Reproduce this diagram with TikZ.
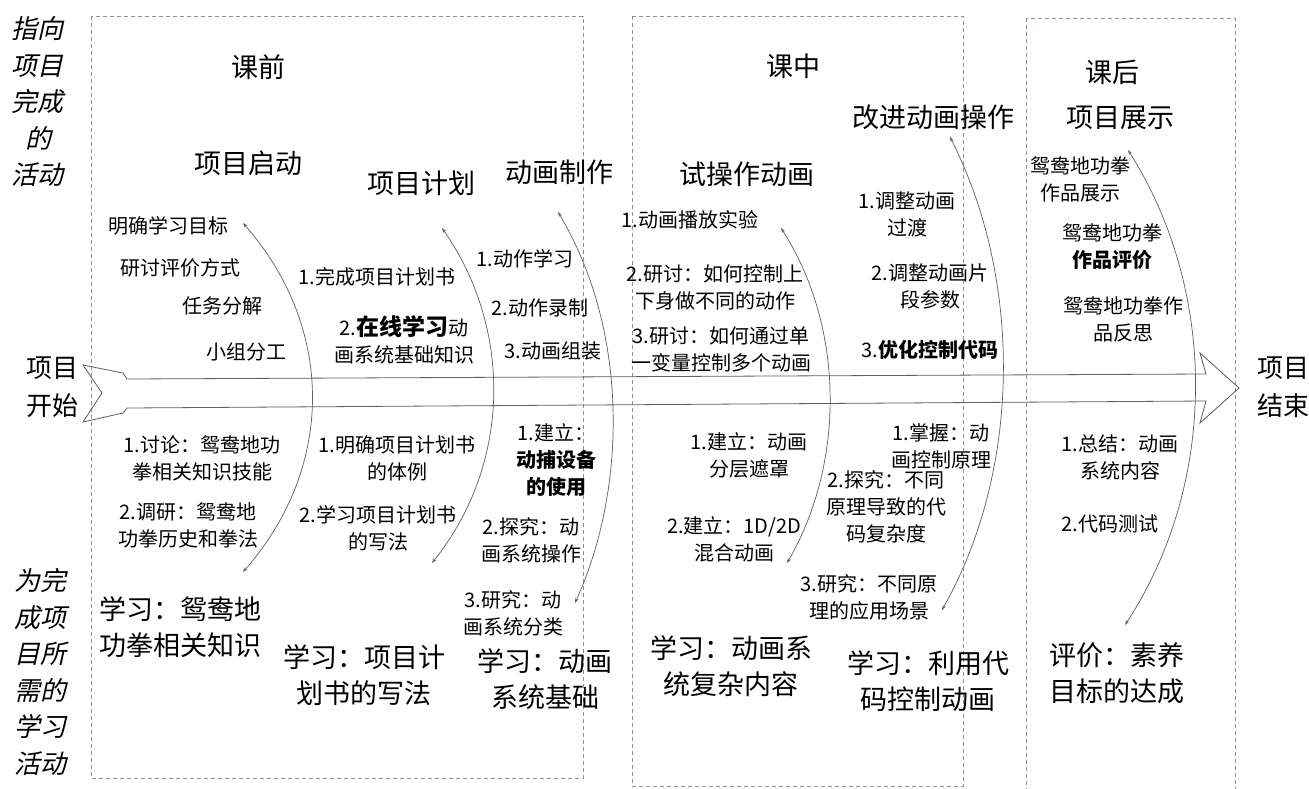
\documentclass[tikz,border=0pt]{standalone}
\usepackage{fontspec}
\setmainfont{Noto Sans CJK SC}
\newfontfamily\sidefont[FakeSlant=0.22]{Noto Sans CJK SC}
\usetikzlibrary{arrows.meta}
\definecolor{boxgray}{RGB}{135,145,160}
\definecolor{linegray}{RGB}{95,95,95}
\tikzset{
  sm/.style={font=\fontsize{20}{27}\selectfont, align=center, inner sep=0pt},
  lg/.style={font=\fontsize{27}{36.5}\selectfont, align=center, inner sep=0pt},
  side/.style={font=\sidefont\fontsize{26}{36.5}\selectfont, align=center, inner sep=0pt},
  endlbl/.style={font=\fontsize{26}{38}\selectfont, align=center, inner sep=0pt},
  stagebox/.style={draw=boxgray, line width=0.8pt, dash pattern=on 4pt off 3pt},
  bigarrow/.style={draw=linegray, line width=0.8pt, line join=miter},
  fishbone/.style={draw=linegray, line width=0.7pt, >={Stealth[length=5pt,width=3.5pt]}, <->},
}
\begin{document}
\begin{tikzpicture}[x=1pt,y=-1pt]
\fill[white] (0,0) rectangle (1309,788);
\useasboundingbox (0,0) rectangle (1309,788);

% stage boxes
\draw[stagebox] (91,16) rectangle (583,778);
\draw[stagebox] (632,16) rectangle (963,786);
\draw[stagebox] (1026,18) rectangle (1235,790);

% main arrow
\draw[bigarrow] (83,365) -- (123,373) -- (127,379) -- (1206,374) -- (1200,353)
  -- (1239,388) -- (1200,423) -- (1206,401) -- (127,408) -- (123,413)
  -- (83,422) -- (102,393) -- cycle;

% fishbone curve ends
\coordinate (a1) at (243,223); \coordinate (b1) at (243,572);
\coordinate (a2) at (442,228); \coordinate (b2) at (432,563);
\coordinate (a3) at (558,212); \coordinate (b3) at (575,603);
\coordinate (a4) at (781,228); \coordinate (b4) at (787,563);
\coordinate (a5) at (950,137); \coordinate (b5) at (942,610);
\coordinate (a6) at (1128,150); \coordinate (b6) at (1125,625);

\draw[fishbone] (a1) .. controls (335,328) and (335,467) .. (b1);
\draw[fishbone] (a2) .. controls (512,328) and (512,463) .. (b2);
\draw[fishbone] (a3) .. controls (628,329) and (628,486) .. (b3);
\draw[fishbone] (a4) .. controls (845,328) and (845,463) .. (b4);
\draw[fishbone] (a5) .. controls (1022,279) and (1022,468) .. (b5);
\draw[fishbone] (a6) .. controls (1218,292) and (1218,483) .. (b6);

% side labels
\node[side] (sideTop) at (38,102) {指向\\项目\\完成\\的\\活动};
\node[side] (sideBot) at (40,672) {为完\\成项\\目所\\需的\\学习\\活动};
\node[endlbl] (start) at (52,387) {项目\\开始};
\node[endlbl] (finish) at (1283,387) {项目\\结束};

% stage and phase titles
\node[lg] (pre) at (258,67) {课前};
\node[lg] (mid) at (793,66) {课中};
\node[lg] (post) at (1112,72) {课后};
\node[lg] (show) at (1120,118) {项目展示};
\node[lg] (launch) at (248,163) {项目启动};
\node[lg] (plan) at (421,183) {项目计划};
\node[lg] (make) at (559,172) {动画制作};
\node[lg] (trial) at (747,174) {试操作动画};
\node[lg] (improve) at (933,117) {改进动画操作};

% bottom learning titles
\node[lg] (learn1) at (180,627) {学习：鸳鸯地\\功拳相关知识};
\node[lg] (learn2) at (364,675) {学习：项目计\\划书的写法};
\node[lg] (learn3) at (545,679) {学习：动画\\系统基础};
\node[lg] (learn4) at (731,666) {学习：动画系\\统复杂内容};
\node[lg] (learn5) at (928,681) {学习：利用代\\码控制动画};
\node[lg] (learn6) at (1117,673) {评价：素养\\目标的达成};

% upper activities
\node[sm] (u1) at (168,226) {明确学习目标};
\node[sm] (u2) at (180,268) {研讨评价方式};
\node[sm] (u3) at (222,306) {任务分解};
\node[sm] (u4) at (246,352) {小组分工};
\node[sm] (u5) at (377,277) {1.完成项目计划书};
\node[sm] (u6) at (404,340) {2.{\fontsize{23}{27}\selectfont\bfseries 在线学习}动\\画系统基础知识};
\node[sm] (u7) at (525,259) {1.动作学习};
\node[sm] (u8) at (540,308) {2.动作录制};
\node[sm] (u9) at (553,351) {3.动画组装};
\node[sm] (u10) at (690,220) {1.动画播放实验};
\node[sm] (u11) at (715,287) {2.研讨：如何控制上\\下身做不同的动作};
\node[sm] (u12) at (721,349) {3.研讨：如何通过单\\一变量控制多个动画};
\node[sm] (u13) at (907,214) {1.调整动画\\过渡};
\node[sm] (u14) at (930,286) {2.调整动画片\\段参数};
\node[sm] (u15) at (930,350) {3.{\bfseries 优化控制代码}};
\node[sm] (u16) at (1080,179) {鸳鸯地功拳\\作品展示};
\node[sm] (u17) at (1112,247) {鸳鸯地功拳\\{\bfseries 作品评价}};
\node[sm] (u18) at (1123,319) {鸳鸯地功拳作\\品反思};

% lower activities
\node[sm] (d1) at (202,458) {1.讨论：鸳鸯地功\\拳相关知识技能};
\node[sm] (d2) at (188,525) {2.调研：鸳鸯地\\功拳历史和拳法};
\node[sm] (d3) at (397,458) {1.明确项目计划书\\的体例};
\node[sm] (d4) at (378,528) {2.学习项目计划书\\的写法};
\node[sm] (d5) at (556,460) {1.建立：\\{\bfseries 动捕设备}\\{\bfseries 的使用}};
\node[sm] (d6) at (531,540) {2.探究：动\\画系统操作};
\node[sm] (d7) at (513,613) {3.研究：动\\画系统分类};
\node[sm] (d8) at (749,455) {1.建立：动画\\分层遮罩};
\node[sm] (d9) at (734,539) {2.建立：1D/2D\\混合动画};
\node[sm] (d10) at (941,446) {1.掌握：动\\画控制原理};
\node[sm] (d11) at (886,507) {2.探究：不同\\原理导致的代\\码复杂度};
\node[sm] (d12) at (869,597) {3.研究：不同原\\理的应用场景};
\node[sm] (d13) at (1120,457) {1.总结：动画\\系统内容};
\node[sm] (d14) at (1110,524) {2.代码测试};
\end{tikzpicture}
\end{document}
